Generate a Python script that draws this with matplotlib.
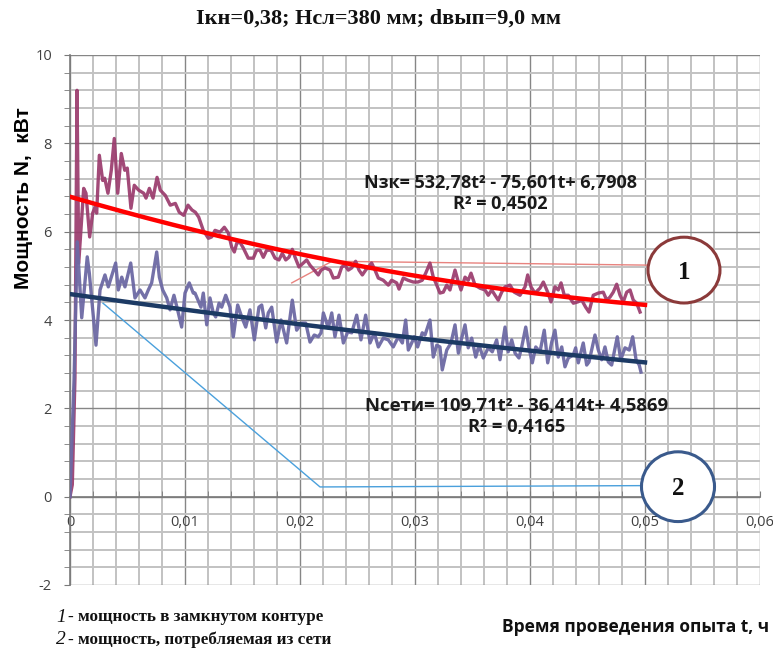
import matplotlib
matplotlib.use('Agg')
import matplotlib.pyplot as plt
from matplotlib.patches import Ellipse
from matplotlib.ticker import MultipleLocator, FuncFormatter
import numpy as np

# ---------------- data ----------------
t1 = [0, 0.0002, 0.00043, 0.00061, 0.00076, 0.00119, 0.00139, 0.00171, 0.00197, 0.00217,
      0.00232, 0.00255, 0.00284, 0.00302, 0.0033, 0.00359, 0.00385, 0.00415, 0.00446, 0.00476,
      0.00498, 0.0053, 0.00559, 0.00597, 0.00641, 0.00661, 0.0069, 0.00722, 0.00757, 0.00785,
      0.00829, 0.00872, 0.00916, 0.0095, 0.00989, 0.01026, 0.01061, 0.0109, 0.01119, 0.01159,
      0.01203, 0.01232, 0.01261, 0.01304, 0.01342, 0.01377, 0.01406, 0.01429, 0.0145, 0.01478,
      0.01507, 0.0155, 0.01594, 0.01623, 0.01652, 0.01681, 0.0171, 0.01748, 0.01783, 0.01817,
      0.01846, 0.01876, 0.01904, 0.01933, 0.01957, 0.01991, 0.02029, 0.02058, 0.02087, 0.02124,
      0.02159, 0.02183, 0.02217, 0.02261, 0.0229, 0.02333, 0.02363, 0.02391, 0.0242, 0.0245,
      0.02484, 0.02513, 0.02542, 0.02571, 0.02623, 0.02652, 0.02681, 0.02724, 0.02768, 0.02797,
      0.02841, 0.02861, 0.02898, 0.02939, 0.02985, 0.03026, 0.03063, 0.03093, 0.0313, 0.03159,
      0.03189, 0.03217, 0.03246, 0.03276, 0.03304, 0.03348, 0.03377, 0.034, 0.03435, 0.03463,
      0.03487, 0.03522, 0.03565, 0.03609, 0.03637, 0.03667, 0.03696, 0.03724, 0.03754, 0.03783,
      0.03826, 0.03863, 0.03913, 0.03957, 0.0398, 0.04009, 0.04043, 0.04087, 0.04116, 0.04154,
      0.04183, 0.04217, 0.04246, 0.0427, 0.04298, 0.04333, 0.04377, 0.04415, 0.0445, 0.04484,
      0.04513, 0.0455, 0.04594, 0.04637, 0.04667, 0.04696, 0.04724, 0.04754, 0.04783, 0.04811,
      0.04841, 0.0487, 0.04898, 0.04928, 0.04957]
n1 = [0, 0.27, 2.69, 9.20, 5.29, 6.98, 6.87, 5.88, 6.42, 6.55,
      6.42, 7.73, 7.16, 7.21, 6.87, 7.39, 8.11, 6.87, 7.77, 7.39,
      7.44, 6.53, 7.05, 6.94, 6.87, 6.76, 6.98, 6.76, 7.23, 6.94,
      6.82, 6.60, 6.64, 6.44, 6.37, 6.60, 6.49, 6.44, 6.33, 6.03,
      5.85, 5.88, 6.03, 5.99, 6.10, 5.97, 5.65, 5.54, 5.74, 5.76,
      5.63, 5.40, 5.40, 5.58, 5.58, 5.42, 5.58, 5.58, 5.40, 5.36,
      5.51, 5.36, 5.42, 5.60, 5.42, 5.20, 5.29, 5.36, 5.24, 5.13,
      5.02, 5.13, 5.18, 5.13, 4.95, 4.97, 5.20, 5.24, 5.13, 5.18,
      5.33, 5.13, 5.02, 5.13, 5.29, 5.13, 4.95, 4.90, 4.79, 4.90,
      4.84, 4.70, 4.95, 4.90, 4.86, 4.86, 4.90, 5.06, 5.29, 4.97,
      4.79, 4.61, 4.63, 4.79, 4.68, 5.13, 4.86, 4.68, 4.97, 4.90,
      5.06, 4.79, 4.72, 4.68, 4.56, 4.68, 4.56, 4.45, 4.63, 4.75,
      4.79, 4.63, 4.56, 4.75, 5.02, 4.75, 4.61, 4.72, 4.86, 4.63,
      4.41, 4.75, 4.68, 4.84, 4.56, 4.56, 4.38, 4.41, 4.45, 4.29,
      4.18, 4.56, 4.61, 4.63, 4.45, 4.52, 4.63, 4.81, 4.56, 4.41,
      4.63, 4.68, 4.45, 4.38, 4.18]

t2 = [0, 0.00035, 0.00063, 0.00102, 0.0015, 0.00168, 0.00226, 0.00261, 0.00304, 0.00333,
      0.00397, 0.0042, 0.0045, 0.00478, 0.00528, 0.00565, 0.00609, 0.00652, 0.00681, 0.0071,
      0.00754, 0.00777, 0.00806, 0.00841, 0.0087, 0.00904, 0.00942, 0.00971, 0.01, 0.01037,
      0.01072, 0.01087, 0.01139, 0.01159, 0.01189, 0.01217, 0.01246, 0.01267, 0.01296, 0.01319,
      0.01354, 0.01391, 0.0142, 0.01458, 0.01493, 0.01528, 0.01565, 0.01603, 0.01643, 0.01667,
      0.01702, 0.01724, 0.01754, 0.01797, 0.01835, 0.01884, 0.01933, 0.01971, 0.02015, 0.0205,
      0.02087, 0.02124, 0.02159, 0.02183, 0.02203, 0.02246, 0.02276, 0.02304, 0.02339, 0.02377,
      0.02415, 0.0245, 0.02493, 0.0253, 0.02571, 0.02609, 0.02646, 0.02681, 0.02724, 0.02768,
      0.02811, 0.02855, 0.0289, 0.02919, 0.02942, 0.02971, 0.02994, 0.03023, 0.03063, 0.03087,
      0.0313, 0.03159, 0.03189, 0.03217, 0.03237, 0.03276, 0.03313, 0.03348, 0.03377, 0.03406,
      0.03435, 0.03463, 0.03493, 0.03528, 0.03557, 0.03594, 0.03637, 0.03672, 0.0371, 0.03739,
      0.03783, 0.03811, 0.03841, 0.0387, 0.03904, 0.03928, 0.03963, 0.03991, 0.0402, 0.0405,
      0.04087, 0.04124, 0.04154, 0.04189, 0.04217, 0.04246, 0.04276, 0.04304, 0.04333, 0.04377,
      0.04397, 0.0442, 0.04463, 0.04493, 0.04513, 0.04565, 0.04594, 0.04623, 0.04652, 0.04681,
      0.0471, 0.04759, 0.04789, 0.04826, 0.04863, 0.04893, 0.04922, 0.0495, 0.04965]
n2 = [0, 2.64, 5.77, 4.05, 5.43, 5.06, 3.43, 4.68, 5.02, 4.75,
      5.29, 4.68, 4.97, 4.75, 5.29, 4.50, 4.68, 4.50, 4.68, 4.84,
      5.54, 4.97, 4.68, 4.50, 4.23, 4.56, 4.16, 3.84, 4.61, 4.84,
      4.61, 4.61, 4.29, 4.61, 3.89, 4.50, 4.16, 4.07, 4.38, 4.29,
      4.56, 4.29, 3.62, 4.34, 4.07, 3.84, 4.23, 3.55, 4.29, 4.34,
      3.82, 4.16, 4.29, 3.50, 4.00, 3.48, 4.45, 3.77, 3.93, 3.93,
      3.50, 3.66, 3.62, 3.71, 4.16, 3.82, 4.16, 3.62, 4.11, 3.48,
      3.73, 3.71, 4.11, 3.55, 4.11, 3.48, 3.71, 3.39, 3.59, 3.55,
      3.39, 3.62, 3.48, 4.00, 3.32, 3.48, 3.62, 3.39, 3.71, 3.66,
      4.00, 3.16, 3.43, 3.39, 2.87, 3.32, 3.48, 3.89, 3.25, 3.59,
      3.89, 3.37, 3.59, 3.16, 3.43, 3.14, 3.37, 3.28, 3.55, 3.10,
      3.84, 3.28, 3.55, 3.25, 3.14, 3.39, 3.84, 3.37, 3.03, 3.39,
      3.28, 3.77, 3.03, 3.50, 3.77, 3.16, 3.39, 2.94, 3.14, 3.21,
      3.37, 3.03, 3.48, 2.98, 3.05, 3.66, 3.32, 3.10, 3.39, 3.05,
      2.98, 3.62, 3.10, 3.37, 3.32, 3.62, 3.10, 2.98, 2.82]

# trend-line coefficients (as printed on the chart)
coef1 = [532.78, -75.601, 6.7908]
coef2 = [109.71, -36.414, 4.5869]
trend_range = [0, 0.05]

eq1 = "Nзк= 532,78t² - 75,601t+ 6,7908\nR² = 0,4502"
eq2 = "Nсети= 109,71t² - 36,414t+ 4,5869\nR² = 0,4165"
title = "Iкн=0,38; Hсл=380 мм; dвып=9,0 мм"
ylabel = "Мощность N,  кВт"
xlabel = "Время проведения опыта t, ч"
legend1 = "- мощность в замкнутом контуре"
legend2 = "- мощность, потребляемая из сети"

# leader lines (callouts)
lead1_t = [0.01928, 0.02278, 0.05104]
lead1_n = [4.84, 5.33, 5.24]
lead2_t = [0.00287, 0.02174, 0.04974]
lead2_n = [4.38, 0.22, 0.25]
ell_centers = [(0.05339, 5.13), (0.05287, 0.226)]
ell_labels = ["1", "2"]

# ---------------- figure ----------------
W, H = 773, 651
fig = plt.figure(figsize=(W / 100, H / 100), dpi=100)
ax = fig.add_axes([70 / W, 66 / H, 690 / W, 530 / H])
ax.set_xlim(0, 0.06)
ax.set_ylim(-2, 10)

ax.xaxis.set_major_locator(MultipleLocator(0.01))
ax.xaxis.set_minor_locator(MultipleLocator(0.002))
ax.yaxis.set_major_locator(MultipleLocator(2))
ax.yaxis.set_minor_locator(MultipleLocator(0.4))
ax.grid(which='minor', color='#c2c2c2', lw=1.4, zorder=0)
ax.grid(which='major', color='#868686', lw=1.0, zorder=0)
ax.set_axisbelow(True)

for s in ['top', 'right']:
    ax.spines[s].set_visible(False)
ax.spines['bottom'].set_position(('data', 0))
for s in ['left', 'bottom']:
    ax.spines[s].set_color('#7a7a7a')
    ax.spines[s].set_linewidth(1.2)

ax.xaxis.set_major_formatter(FuncFormatter(
    lambda v, p: ('%g' % round(v, 4)).replace('.', ',')))
ax.yaxis.set_major_formatter(FuncFormatter(lambda v, p: '%d' % round(v)))

ax.tick_params(axis='x', which='both', direction='in', colors='#7a7a7a',
               labelcolor='#404040', labelsize=10.5, pad=13)
ax.tick_params(axis='x', which='major', length=4)
ax.tick_params(axis='x', which='minor', length=4)
ax.tick_params(axis='y', which='both', direction='out', colors='#7a7a7a',
               labelcolor='#404040', labelsize=10.5, pad=9)
ax.tick_params(axis='y', which='major', length=4)
ax.tick_params(axis='y', which='minor', length=4)
for lab in ax.get_xticklabels() + ax.get_yticklabels():
    lab.set_family('Open Sans')

# leader lines
ax.plot(lead1_t, lead1_n, color='#e8837f', lw=1.0, zorder=2)
ax.plot(lead2_t, lead2_n, color='#4aa0dc', lw=1.0, zorder=2)

# measured series
ax.plot(t1, n1, color='#9a3a6c', lw=2.4, alpha=0.92, zorder=3,
        solid_joinstyle='round')
ax.plot(t2, n2, color='#6d69a4', lw=2.4, alpha=0.95, zorder=3,
        solid_joinstyle='round')

# trend lines
tt = np.linspace(trend_range[0], trend_range[1], 200)
ax.plot(tt, np.polyval(coef1, tt), color='#ff0000', lw=3.2, zorder=4)
ax.plot(tt, np.polyval(coef2, tt), color='#1c3a64', lw=3.2, zorder=4)

# equations
ax.text(0.0374, 6.86, eq1, ha='center', va='center', fontsize=13,
        fontweight='bold', family='Open Sans', color='#1a1a1a',
        linespacing=1.25, zorder=6)
ax.text(0.03887, 1.82, eq2, ha='center', va='center', fontsize=13.3,
        fontweight='bold', family='Open Sans', color='#1a1a1a',
        linespacing=1.25, zorder=6)

# ellipses with labels
ell_colors = ['#8b3a3a', '#3a5a8c']
ell_sizes = [(0.00626, 1.49), (0.00635, 1.58)]
for (cx, cy), lab, c, (w, h) in zip(ell_centers, ell_labels, ell_colors, ell_sizes):
    e = Ellipse((cx, cy), w, h, facecolor='white', edgecolor=c, lw=2.2,
                zorder=7, clip_on=False)
    ax.add_patch(e)
    ax.text(cx, cy - 0.05, lab, ha='center', va='center', fontsize=18,
            fontweight='bold', family='Liberation Serif', color='#111111',
            zorder=8)

# titles and labels
fig.text(378 / W, 1 - 19 / H, title, ha='center', va='center', fontsize=16,
         fontweight='bold', family='Liberation Serif', color='#111111')
fig.text(24 / W, 1 - 198 / H, ylabel, ha='center', va='center', rotation=90,
         fontsize=15, fontweight='bold', family='Liberation Sans', color='#000000')
fig.text(769 / W, 1 - 627 / H, xlabel, ha='right', va='center', fontsize=12.5,
         fontweight='bold', family='Open Sans', color='#111111')

fig.text(56 / W, 1 - 617 / H, "1", ha='left', va='center', fontsize=14,
         style='italic', family='Liberation Serif', color='#111111')
fig.text(68 / W, 1 - 617 / H, legend1, ha='left', va='center', fontsize=12.3,
         fontweight='bold', family='Liberation Serif', color='#111111')
fig.text(56 / W, 1 - 640 / H, "2", ha='left', va='center', fontsize=14,
         style='italic', family='Liberation Serif', color='#111111')
fig.text(68 / W, 1 - 640 / H, legend2, ha='left', va='center', fontsize=12.3,
         fontweight='bold', family='Liberation Serif', color='#111111')

fig.savefig('out.png', dpi=100)
